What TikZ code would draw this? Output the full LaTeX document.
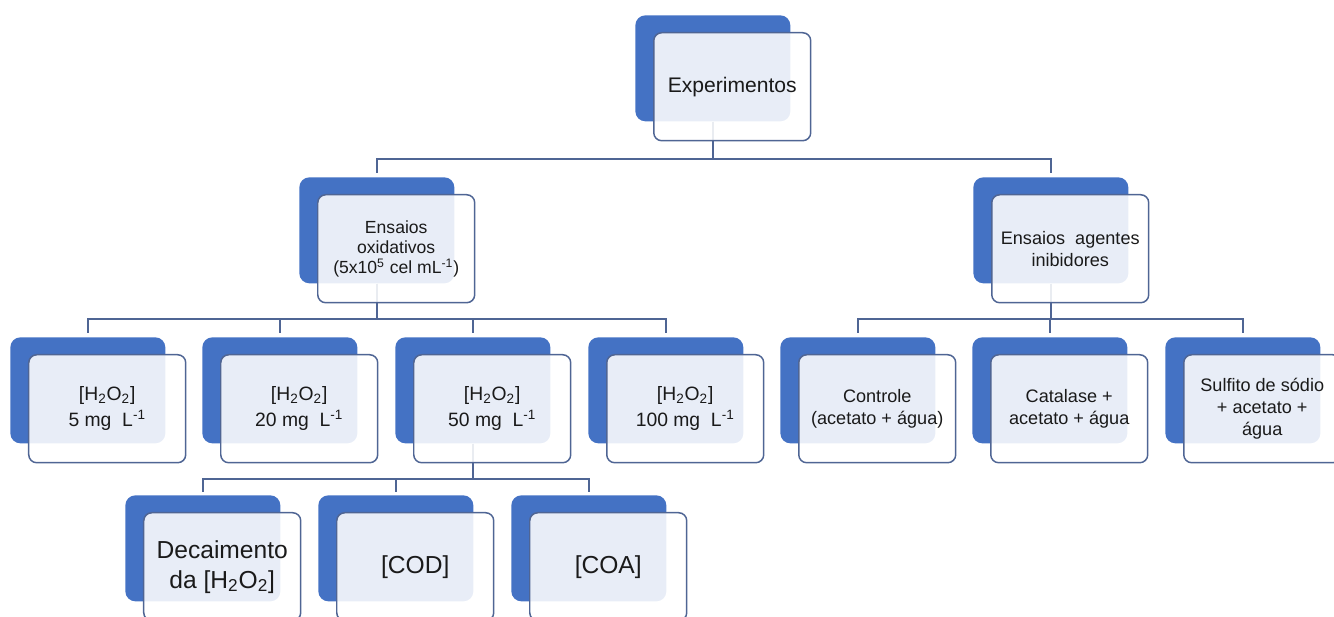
\documentclass[tikz,border=0pt]{standalone}
\usepackage{fontspec}
\setmainfont{Liberation Sans}
\usetikzlibrary{backgrounds}
\definecolor{caixaazul}{HTML}{4472C4}
\definecolor{linha}{HTML}{4F6594}
\definecolor{texto}{HTML}{1A1A1A}
\tikzset{
  fundo/.style={fill=caixaazul, rounded corners=0.2cm, minimum width=3.1cm, minimum height=2.12cm, anchor=north west, inner sep=0pt},
  frente/.style={draw=linha, line width=0.85pt, fill=white, fill opacity=0.88, text opacity=1, rounded corners=0.16cm, minimum width=3.14cm, minimum height=2.16cm, anchor=north west, align=center, text=texto, inner sep=2pt},
  ligacao/.style={draw=linha, line width=0.85pt, shorten >=0.07cm}
}
\begin{document}
\begin{tikzpicture}[x=0.02cm, y=-0.02cm]
    \useasboundingbox (0,0) rectangle (1334,617);
    \clip (0,0) rectangle (1334,617);
    \node[fundo] (exp) at (635,15) {};
    \node[frente, font=\fontsize{12}{14}\selectfont] (exp-t) at ([xshift=0.36cm, yshift=-0.34cm]exp.north west) {Experimentos};
    \node[fundo] (ox) at (299,177) {};
    \node[frente, font=\fontsize{10}{11.5}\selectfont] (ox-t) at ([xshift=0.36cm, yshift=-0.34cm]ox.north west) {Ensaios\\oxidativos\\(5x10\textsuperscript{5} cel mL\textsuperscript{-1})};
    \node[fundo] (inib) at (973,177) {};
    \node[frente, font=\fontsize{10.3}{12.5}\selectfont] (inib-t) at ([xshift=0.36cm, yshift=-0.34cm]inib.north west) {Ensaios\ \ agentes\\inibidores};
    \foreach \n/\x in {5/10, 20/202, 50/395, 100/588} {
        \node[fundo] (c\n) at (\x,337) {};
        \node[frente, font=\fontsize{11}{15}\selectfont] (c\n-t) at ([xshift=0.36cm, yshift=-0.34cm]c\n.north west) {[H\textsubscript{2}O\textsubscript{2}]\\\n\ mg\ \ L\textsuperscript{-1}};
    }
    \node[fundo] (ctrl) at (780,337) {};
    \node[frente, font=\fontsize{10.3}{12.5}\selectfont] (ctrl-t) at ([xshift=0.36cm, yshift=-0.34cm]ctrl.north west) {Controle\\(acetato + água)};
    \node[fundo] (cat) at (972,337) {};
    \node[frente, font=\fontsize{10.3}{12.5}\selectfont] (cat-t) at ([xshift=0.36cm, yshift=-0.34cm]cat.north west) {Catalase +\\acetato + água};
    \node[fundo] (sulf) at (1165,337) {};
    \node[frente, font=\fontsize{10.3}{12.5}\selectfont] (sulf-t) at ([xshift=0.36cm, yshift=-0.34cm]sulf.north west) {Sulfito de sódio\\+ acetato +\\água};
    \node[fundo] (dec) at (125,495) {};
    \node[frente, font=\fontsize{14}{17}\selectfont] (dec-t) at ([xshift=0.36cm, yshift=-0.34cm]dec.north west) {Decaimento\\da [H\textsubscript{2}O\textsubscript{2}]};
    \node[fundo] (cod) at (318,495) {};
    \node[frente, font=\fontsize{14}{17}\selectfont] (cod-t) at ([xshift=0.36cm, yshift=-0.34cm]cod.north west) {[COD]};
    \node[fundo] (coa) at (511,495) {};
    \node[frente, font=\fontsize{14}{17}\selectfont] (coa-t) at ([xshift=0.36cm, yshift=-0.34cm]coa.north west) {[COA]};
    \coordinate (bus1) at (0,159);
    \coordinate (bus2) at (0,319);
    \coordinate (bus3) at (0,479);
    \begin{scope}[on background layer]
        \foreach \f in {ox, inib} {\draw[ligacao] (exp.south) -- (exp.south |- bus1) -| (\f.north);}
        \foreach \f in {c5, c20, c50, c100} {\draw[ligacao] (ox.south) -- (ox.south |- bus2) -| (\f.north);}
        \foreach \f in {ctrl, cat, sulf} {\draw[ligacao] (inib.south) -- (inib.south |- bus2) -| (\f.north);}
        \foreach \f in {dec, cod, coa} {\draw[ligacao] (c50.south) -- (c50.south |- bus3) -| (\f.north);}
    \end{scope}
\end{tikzpicture}
\end{document}
